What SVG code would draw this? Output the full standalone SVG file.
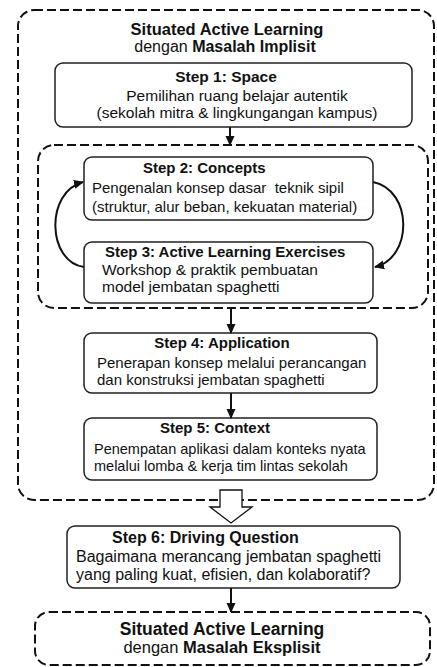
<svg xmlns="http://www.w3.org/2000/svg" width="437" height="667" viewBox="0 0 437 667">
<defs>
<marker id="ah" markerWidth="10" markerHeight="10" refX="9" refY="5" orient="auto" markerUnits="userSpaceOnUse">
<path d="M0,0.5 L10,5 L0,9.5 Z" fill="#111"/>
</marker>
<style>
text{font-family:"Liberation Sans",Arial,Helvetica,sans-serif;fill:#111}
.b{font-weight:bold}
.box{fill:#fff;stroke:#222;stroke-width:1.5}
.dash{fill:none;stroke:#111;stroke-width:2;stroke-dasharray:9 4}
.con{fill:none;stroke:#111;stroke-width:2}
.mid{text-anchor:middle}
</style>
</defs>
<rect width="437" height="667" fill="#fff"/>
<g id="outer-implisit">
<rect class="dash" x="18" y="10" width="416" height="490" rx="16"/>
<text class="b mid" x="227" y="35" font-size="16.5">Situated Active Learning</text>
<text class="mid" x="225" y="52" font-size="16">dengan <tspan class="b">Masalah Implisit</tspan></text>
</g>
<g id="loop-group">
<rect class="dash" x="38" y="145" width="390" height="163" rx="16"/>
</g>
<g id="step1">
<rect class="box" x="55" y="63" width="357" height="64" rx="8"/>
<text class="b mid" x="226" y="82" font-size="15.5">Step 1: Space</text>
<text class="mid" x="237" y="101" font-size="15.5">Pemilihan ruang belajar autentik</text>
<text class="mid" x="237" y="118" font-size="15.5">(sekolah mitra &amp; lingkungangan kampus)</text>
</g>
<g id="step2">
<rect class="box" x="84" y="157" width="289" height="63" rx="8"/>
<text class="b" x="143" y="173" font-size="15">Step 2: Concepts</text>
<text x="92" y="193" font-size="15" style="white-space:pre" xml:space="preserve">Pengenalan konsep dasar  teknik sipil</text>
<text x="92" y="212" font-size="15">(struktur, alur beban, kekuatan material)</text>
</g>
<g id="step3">
<rect class="box" x="84" y="242" width="289" height="61" rx="8"/>
<text class="b" x="105" y="257" font-size="15">Step 3: Active Learning Exercises</text>
<text x="102" y="275" font-size="15.5">Workshop &amp; praktik pembuatan</text>
<text x="102" y="292" font-size="15.5">model jembatan spaghetti</text>
</g>
<g id="step4">
<rect class="box" x="84" y="333" width="293" height="60" rx="8"/>
<text class="b mid" x="222" y="348" font-size="15">Step 4: Application</text>
<text x="97" y="368" font-size="15">Penerapan konsep melalui perancangan</text>
<text x="97" y="385" font-size="15">dan konstruksi jembatan spaghetti</text>
</g>
<g id="step5">
<rect class="box" x="84" y="418" width="293" height="62" rx="8"/>
<text class="b mid" x="215" y="433" font-size="15">Step 5: Context</text>
<text x="94" y="454" font-size="14.5">Penempatan aplikasi dalam konteks nyata</text>
<text x="94" y="471" font-size="14.5">melalui lomba &amp; kerja tim lintas sekolah</text>
</g>
<g id="step6">
<rect class="box" x="67" y="526" width="333" height="62" rx="8"/>
<text class="b" x="112" y="543" font-size="16">Step 6: Driving Question</text>
<text x="76" y="562" font-size="16">Bagaimana merancang jembatan spaghetti</text>
<text x="76" y="580" font-size="16">yang paling kuat, efisien, dan kolaboratif?</text>
</g>
<g id="outer-eksplisit">
<rect class="dash" x="35" y="612" width="395" height="53" rx="14"/>
<text class="b mid" x="222" y="635" font-size="17.5">Situated Active Learning</text>
<text class="mid" x="222" y="653" font-size="16.5">dengan <tspan class="b">Masalah Eksplisit</tspan></text>
</g>
<g id="connectors">
<line class="con" x1="230" y1="127" x2="230" y2="145" marker-end="url(#ah)"/>
<path class="con" d="M84,267 C47,262 45,192 83,182" marker-end="url(#ah)"/>
<path class="con" d="M373,182 C413,190 413,258 375,267" marker-end="url(#ah)"/>
<line class="con" x1="231" y1="308" x2="231" y2="333" marker-end="url(#ah)"/>
<line class="con" x1="231" y1="393" x2="231" y2="418" marker-end="url(#ah)"/>
<polygon points="220,490 242,490 242,507 252,507 231,523 210,507 220,507" fill="#fff" stroke="#111" stroke-width="1.3"/>
<line class="con" x1="231" y1="588" x2="231" y2="612" marker-end="url(#ah)"/>
</g>
</svg>
